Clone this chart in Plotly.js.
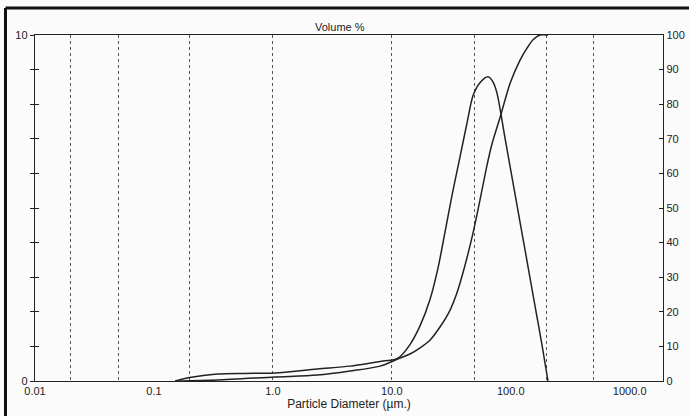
<!DOCTYPE html>
<html>
<head>
<meta charset="utf-8">
<script src="https://cdn.plot.ly/plotly-3.0.1.min.js"></script>
<style>
html,body{margin:0;padding:0;background:#fcfbfb;}
#chart{width:689px;height:416px;}
</style>
</head>
<body>
<div id="chart"></div>
<script>
// Particle diameter (µm) and volume % (frequency, left axis)
const freqDiam = [0.151, 0.2, 0.34, 0.58, 1.04, 2.36, 4.46, 8.45, 10.6, 11.7, 14.2, 17.3, 20.9, 24.4, 28.0, 32.0, 37.4, 42.9, 48.2, 55.1, 64.4, 71.0, 76.6, 89.5, 108.6, 131.8, 159.9, 183.2, 205.6];
const freqVal  = [0.0, 0.10, 0.20, 0.22, 0.23, 0.35, 0.43, 0.58, 0.62, 0.70, 1.05, 1.60, 2.35, 3.25, 4.30, 5.35, 6.47, 7.46, 8.25, 8.62, 8.79, 8.64, 8.32, 7.02, 5.40, 3.79, 2.17, 1.04, 0.0];
// Cumulative volume % (right axis)
const cumDiam = [0.151, 0.34, 1.04, 2.36, 4.46, 7.98, 10.6, 14.2, 17.3, 20.9, 25.4, 30.9, 35.3, 39.6, 48.2, 55.1, 63.2, 69.5, 81.5, 98.9, 120, 137, 154, 176, 206];
const cumVal  = [0.0, 0.3, 1.16, 1.73, 2.89, 4.3, 6.0, 7.8, 9.6, 11.8, 15.6, 20.5, 25.5, 31.2, 42.8, 52.3, 62.4, 68.5, 76.3, 86.1, 92.8, 96.2, 98.6, 100, 100];
// Axis ticks
const xTickVals = [0.01, 0.1, 1, 10, 100, 1000];
const xTickText = ['0.01', '0.1', '1.0', '10.0', '100.0', '1000.0'];
const xGridVals = [0.02, 0.05, 0.2, 1, 10, 50, 200, 500];
const leftTickVals = [0, 1, 2, 3, 4, 5, 6, 7, 8, 9, 10];
const leftTickText = ['0', '', '', '', '', '', '', '', '', '', '10'];
const rightTickVals = [0, 10, 20, 30, 40, 50, 60, 70, 80, 90, 100];

const lineColor = '#222';
const fontBase = {family: 'Liberation Sans, Arial, sans-serif', size: 11, color: '#222'};
const fontTitle = {family: 'Liberation Sans, Arial, sans-serif', size: 12, color: '#222'};
const xRange = [-2, 3.28];

const data = [
  {x: freqDiam, y: freqVal, type: 'scatter', mode: 'lines', xaxis: 'x', yaxis: 'y',
   line: {color: lineColor, width: 1.5, shape: 'spline', smoothing: 0.8}, hoverinfo: 'skip'},
  {x: cumDiam, y: cumVal, type: 'scatter', mode: 'lines', xaxis: 'x2', yaxis: 'y2',
   line: {color: lineColor, width: 1.5, shape: 'spline', smoothing: 0.8}, hoverinfo: 'skip'},
  {x: [], y: [], type: 'scatter', mode: 'lines', xaxis: 'x', yaxis: 'y3', hoverinfo: 'skip'}
];

const layout = {
  width: 689, height: 416,
  margin: {l: 35, r: 26, t: 35, b: 35},
  paper_bgcolor: '#fcfbfb', plot_bgcolor: '#fcfbfb',
  showlegend: false,
  font: fontBase,
  xaxis: {type: 'log', range: xRange, tickvals: xTickVals, ticktext: xTickText,
    showgrid: false, zeroline: false, showline: true, mirror: true, linecolor: lineColor, linewidth: 1.2,
    ticks: '', tickfont: fontBase,
    title: {text: 'Particle Diameter (µm.)', font: fontTitle, standoff: 3}},
  xaxis2: {type: 'log', range: xRange, overlaying: 'x', tickvals: xGridVals, showticklabels: false,
    ticks: '', showgrid: true, gridcolor: '#555', griddash: 'dot', gridwidth: 1, zeroline: false, showline: false},
  yaxis: {range: [0, 10], tickvals: leftTickVals, ticktext: leftTickText, ticks: 'outside', ticklen: 4,
    tickcolor: lineColor, showgrid: false, zeroline: false, showline: true, linecolor: lineColor, linewidth: 1.2,
    tickfont: fontBase},
  yaxis3: {range: [0, 10], overlaying: 'y', side: 'left', tickvals: leftTickVals, ticks: 'inside', ticklen: 4,
    tickcolor: lineColor, showticklabels: false, showgrid: false, zeroline: false, showline: false},
  yaxis2: {range: [0, 100], overlaying: 'y', side: 'right', tickvals: rightTickVals, ticks: 'inside', ticklen: 4,
    tickcolor: lineColor, showgrid: false, zeroline: false, showline: true, linecolor: lineColor, linewidth: 1.2,
    tickfont: fontBase},
  annotations: [
    {text: 'Volume %', xref: 'paper', yref: 'paper', x: 0.486, y: 1,
     xanchor: 'center', yanchor: 'bottom', yshift: 0, showarrow: false, font: fontBase}
  ],
  shapes: [
    {type: 'line', xref: 'paper', yref: 'paper', x0: -0.047, x1: 1.05, y0: 1.078, y1: 1.078,
     line: {color: '#111', width: 3}},
    {type: 'line', xref: 'paper', yref: 'paper', x0: -0.047, x1: -0.047, y0: 1.078, y1: -0.11,
     line: {color: '#111', width: 3}}
  ]
};

Plotly.newPlot('chart', data, layout, {displayModeBar: false, staticPlot: true});
</script>
</body>
</html>
